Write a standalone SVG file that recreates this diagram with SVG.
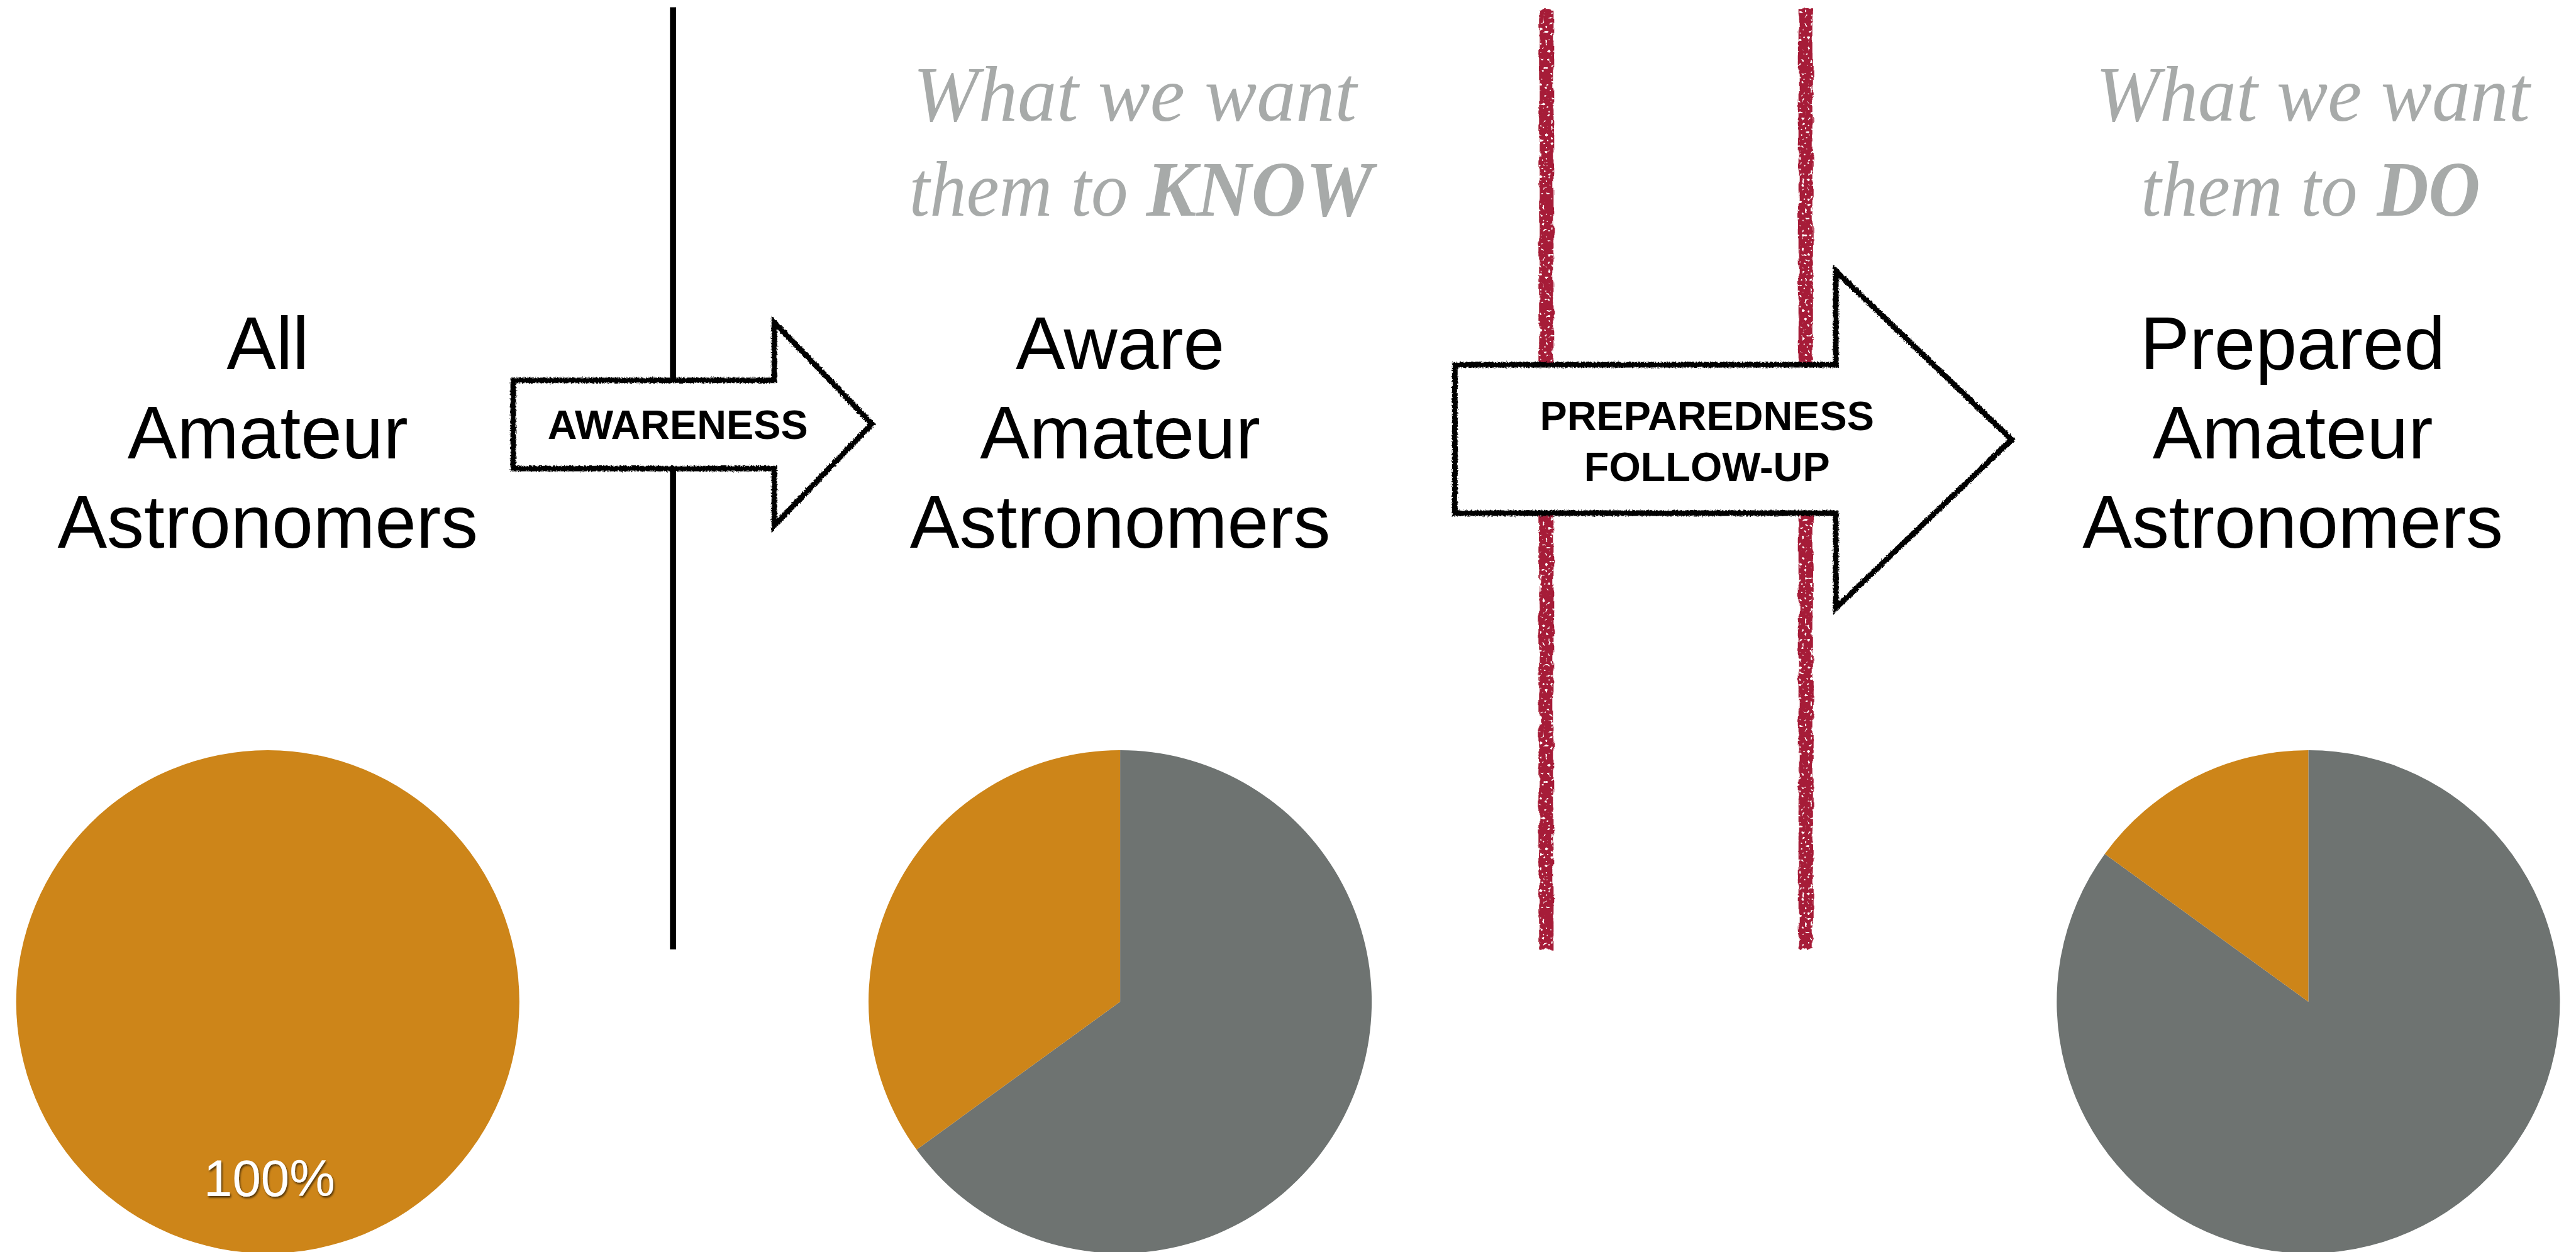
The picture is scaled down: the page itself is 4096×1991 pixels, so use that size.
<svg xmlns="http://www.w3.org/2000/svg" width="4096" height="1991" viewBox="0 0 4096 1991">
  <style>
    .label { font-family: "Liberation Sans", Arial, Helvetica, sans-serif; font-size: 133px; fill: #000; text-anchor: middle; }
    .caption { font-family: "Liberation Serif", "Times New Roman", serif; font-style: italic; font-size: 142px; fill: #A7AAA9; }
    .strong { font-weight: bold; }
    .arrow-text { font-family: "Liberation Sans", Arial, Helvetica, sans-serif; font-weight: bold; font-size: 73px; fill: #000; text-anchor: middle; }
    .arrow-fill { fill: #fff; stroke: none; }
    .arrow-line { fill: none; stroke: #000; stroke-width: 10; stroke-linejoin: miter; filter: url(#rough); }
    .orange { fill: #CD8519; }
    .gray { fill: #6E7371; }
    .redline { fill: #A61E37; filter: url(#chalk); }
    .pct { font-family: "Liberation Sans", Arial, Helvetica, sans-serif; font-size: 92px; fill: #fff; text-anchor: middle; filter: url(#shadow); }
  </style>
  <defs>
    <filter id="rough" x="-5%" y="-5%" width="110%" height="110%">
      <feTurbulence type="fractalNoise" baseFrequency="0.35" numOctaves="2" seed="3" result="n"/>
      <feDisplacementMap in="SourceGraphic" in2="n" scale="6" xChannelSelector="R" yChannelSelector="G"/>
    </filter>
    <filter id="chalk" x="-60%" y="-2%" width="220%" height="104%">
      <feTurbulence type="fractalNoise" baseFrequency="0.09 0.04" numOctaves="2" seed="7" result="n"/>
      <feDisplacementMap in="SourceGraphic" in2="n" scale="9" xChannelSelector="R" yChannelSelector="G" result="d"/>
      <feTurbulence type="fractalNoise" baseFrequency="0.2" numOctaves="1" seed="2" result="s"/>
      <feColorMatrix in="s" type="matrix" values="0 0 0 0 0  0 0 0 0 0  0 0 0 0 0  0 0 0 -12 8.4" result="m"/>
      <feComposite in="d" in2="m" operator="in"/>
    </filter>
    <filter id="shadow" x="-10%" y="-20%" width="120%" height="140%">
      <feDropShadow dx="2" dy="3" stdDeviation="2" flood-color="#000" flood-opacity="0.6"/>
    </filter>
  </defs>
  <rect width="4096" height="1991" fill="#fff"/>
  <g transform="scale(0.887)">
    <g id="dividers">
      <rect id="divider-black" x="1201" y="13" width="11" height="1689" fill="#000"/>
      <rect id="divider-red-1" class="redline" x="2759" y="16" width="26" height="1686"/>
      <rect id="divider-red-2" class="redline" x="3224" y="16" width="26" height="1686"/>
    </g>

    <g id="caption-know">
      <text class="caption" x="1637" y="216" textLength="795" lengthAdjust="spacingAndGlyphs">What we want</text>
      <text class="caption" x="1630" y="387" textLength="392" lengthAdjust="spacingAndGlyphs">them to</text>
      <text class="caption strong" x="2055" y="387" textLength="406" lengthAdjust="spacingAndGlyphs">KNOW</text>
    </g>
    <g id="caption-do">
      <text class="caption" x="3757" y="216" textLength="778" lengthAdjust="spacingAndGlyphs">What we want</text>
      <text class="caption" x="3838" y="387" textLength="388" lengthAdjust="spacingAndGlyphs">them to</text>
      <text class="caption strong" x="4261" y="387" textLength="185" lengthAdjust="spacingAndGlyphs">DO</text>
    </g>

    <g id="stage-all">
      <text class="label" x="480" y="662">All</text>
      <text class="label" x="480" y="822">Amateur</text>
      <text class="label" x="480" y="982">Astronomers</text>
      <circle class="orange" cx="480" cy="1796" r="451"/>
      <text class="pct" x="483" y="2144">100%</text>
    </g>

    <g id="stage-aware">
      <text class="label" x="2008" y="662">Aware</text>
      <text class="label" x="2008" y="822">Amateur</text>
      <text class="label" x="2008" y="982">Astronomers</text>
      <path class="gray" d="M2008,1796 L2008,1345 A451,451 0 1 1 1643.1,2061.1 Z"/>
      <path class="orange" d="M2008,1796 L1643.1,2061.1 A451,451 0 0 1 2008,1345 Z"/>
    </g>

    <g id="stage-prepared">
      <text class="label" x="4110" y="662">Prepared</text>
      <text class="label" x="4110" y="822">Amateur</text>
      <text class="label" x="4110" y="982">Astronomers</text>
      <path class="gray" d="M4138,1796 L4138,1345 A451,451 0 1 1 3773.1,1530.9 Z"/>
      <path class="orange" d="M4138,1796 L3773.1,1530.9 A451,451 0 0 1 4138,1345 Z"/>
    </g>

    <g id="connectors">
      <g id="arrow-awareness">
        <path class="arrow-fill" d="M920,682 L1388,682 L1388,578 L1563,760 L1388,942 L1388,840 L920,840 Z"/>
        <path class="arrow-line" d="M920,682 L1388,682 L1388,578 L1563,760 L1388,942 L1388,840 L920,840 Z"/>
        <text class="arrow-text" x="1215" y="787">AWARENESS</text>
      </g>
      <g id="arrow-preparedness">
        <path class="arrow-fill" d="M2608,654 L3291,654 L3291,486 L3606,788 L3291,1090 L3291,920 L2608,920 Z"/>
        <path class="arrow-line" d="M2608,654 L3291,654 L3291,486 L3606,788 L3291,1090 L3291,920 L2608,920 Z"/>
        <text class="arrow-text" x="3060" y="771">PREPAREDNESS</text>
        <text class="arrow-text" x="3060" y="862">FOLLOW-UP</text>
      </g>
    </g>
  </g>
</svg>
